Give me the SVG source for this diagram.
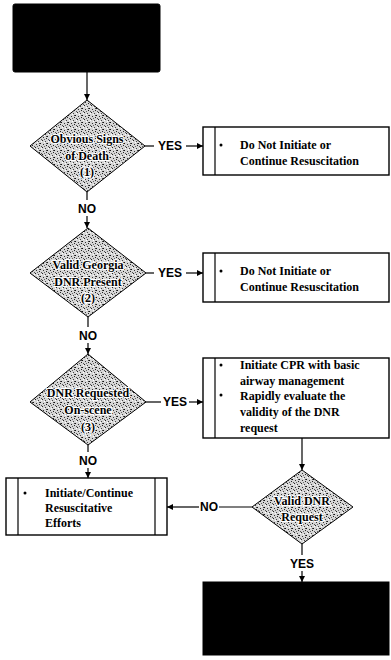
<svg xmlns="http://www.w3.org/2000/svg" width="391" height="660" viewBox="0 0 391 660">
<defs>
<pattern id="stip" width="7" height="7" patternUnits="userSpaceOnUse">
<rect width="7" height="7" fill="#d6d6d6"/>
<rect x="0" y="0" width="1" height="1" fill="#222"/>
<rect x="3" y="1" width="1" height="1" fill="#444"/>
<rect x="5" y="3" width="1" height="1" fill="#111"/>
<rect x="1" y="4" width="1" height="1" fill="#333"/>
<rect x="4" y="5" width="1" height="1" fill="#222"/>
<rect x="6" y="6" width="1" height="1" fill="#555"/>
<rect x="2" y="6" width="1" height="1" fill="#666"/>
<rect x="6" y="1" width="1" height="1" fill="#fff"/>
<rect x="2" y="2" width="1" height="1" fill="#fff"/>
<rect x="4" y="3" width="1" height="1" fill="#444"/>
</pattern>
<marker id="ah" viewBox="0 0 10 10" refX="10" refY="5" markerWidth="6" markerHeight="6" orient="auto" markerUnits="userSpaceOnUse">
<path d="M0,0 L10,5 L0,10 z" fill="#000"/>
</marker>
</defs>
<style>
.blk{fill:#000;stroke:#000}
.dia{fill:url(#stip);stroke:#000;stroke-width:1}
.box{fill:#fff;stroke:#000;stroke-width:1.4}
.in{stroke:#000;stroke-width:1.2}
.dt{font-family:"Liberation Serif",serif;font-weight:bold;font-size:12px;fill:#000;stroke:#fff;stroke-width:2;paint-order:stroke;text-anchor:middle}
.bt{font-family:"Liberation Serif",serif;font-weight:bold;font-size:12px;fill:#000}
.lb{font-family:"Liberation Sans",Arial,sans-serif;font-weight:bold;font-size:12px;fill:#000;text-anchor:middle}
.ln{fill:none;stroke:#000;stroke-width:1.2}
</style>
<rect width="391" height="660" fill="#fff"/>

<g id="start"><rect class="blk" x="13" y="4" width="147" height="68" rx="2"/></g>

<g id="d1">
<polygon class="dia" points="87,100 145,146 87,192 30,146"/>
<text class="dt" x="87" y="143">Obvious Signs</text>
<text class="dt" x="87" y="160">of Death</text>
<text class="dt" x="87" y="176">(1)</text>
</g>
<g id="b1">
<rect class="box" x="203" y="127" width="186" height="48"/>
<line class="in" x1="215" y1="127" x2="215" y2="175"/>
<circle cx="221" cy="145" r="1.5"/>
<text class="bt" x="240" y="149">Do Not Initiate or</text>
<text class="bt" x="240" y="165">Continue Resuscitation</text>
</g>

<g id="d2">
<polygon class="dia" points="88,228 146,273 88,317 30,273"/>
<text class="dt" x="88" y="269">Valid Georgia</text>
<text class="dt" x="88" y="286">DNR Present</text>
<text class="dt" x="88" y="302">(2)</text>
</g>
<g id="b2">
<rect class="box" x="203" y="253" width="186" height="49"/>
<line class="in" x1="215" y1="253" x2="215" y2="302"/>
<circle cx="221" cy="271" r="1.5"/>
<text class="bt" x="240" y="275">Do Not Initiate or</text>
<text class="bt" x="240" y="291">Continue Resuscitation</text>
</g>

<g id="d3">
<polygon class="dia" points="88,354 146,402 88,445 30,402"/>
<text class="dt" x="88" y="397">DNR Requested</text>
<text class="dt" x="88" y="414">On-scene</text>
<text class="dt" x="88" y="431">(3)</text>
</g>
<g id="b3">
<rect class="box" x="203" y="358" width="186" height="80"/>
<line class="in" x1="215" y1="358" x2="215" y2="438"/>
<circle cx="221" cy="365" r="1.5"/>
<circle cx="221" cy="395" r="1.5"/>
<text class="bt" x="240" y="369">Initiate CPR with basic</text>
<text class="bt" x="240" y="385">airway management</text>
<text class="bt" x="240" y="400">Rapidly evaluate the</text>
<text class="bt" x="240" y="416">validity of the DNR</text>
<text class="bt" x="240" y="432">request</text>
</g>

<g id="b4">
<rect class="box" x="6" y="478" width="161" height="57"/>
<line class="in" x1="18" y1="478" x2="18" y2="535"/>
<line class="in" x1="155" y1="478" x2="155" y2="535"/>
<circle cx="25" cy="493" r="1.5"/>
<text class="bt" x="45" y="497">Initiate/Continue</text>
<text class="bt" x="45" y="512">Resuscitative</text>
<text class="bt" x="45" y="527">Efforts</text>
</g>

<g id="d4">
<polygon class="dia" points="302,470 353,507 302,544 252,507"/>
<text class="dt" x="302" y="505">Valid DNR</text>
<text class="dt" x="302" y="521">Request</text>
</g>

<g id="end"><rect class="blk" x="203" y="582" width="186" height="73"/></g>

<g id="connectors">
<line class="ln" x1="87" y1="72" x2="87" y2="100" marker-end="url(#ah)"/>
<line class="ln" x1="145" y1="146" x2="154" y2="146"/>
<text class="lb" x="170" y="150">YES</text>
<line class="ln" x1="186" y1="146" x2="203" y2="146" marker-end="url(#ah)"/>
<line class="ln" x1="87" y1="192" x2="87" y2="200"/>
<text class="lb" x="87" y="213">NO</text>
<line class="ln" x1="87" y1="216" x2="87" y2="228" marker-end="url(#ah)"/>

<line class="ln" x1="146" y1="273" x2="154" y2="273"/>
<text class="lb" x="170" y="277">YES</text>
<line class="ln" x1="186" y1="273" x2="203" y2="273" marker-end="url(#ah)"/>
<line class="ln" x1="88" y1="317" x2="88" y2="327"/>
<text class="lb" x="88" y="340">NO</text>
<line class="ln" x1="88" y1="343" x2="88" y2="354" marker-end="url(#ah)"/>

<line class="ln" x1="146" y1="402" x2="161" y2="402"/>
<text class="lb" x="175" y="406">YES</text>
<line class="ln" x1="189" y1="402" x2="203" y2="402" marker-end="url(#ah)"/>
<line class="ln" x1="88" y1="445" x2="88" y2="452"/>
<text class="lb" x="88" y="465">NO</text>
<line class="ln" x1="88" y1="468" x2="88" y2="478" marker-end="url(#ah)"/>

<line class="ln" x1="302" y1="438" x2="302" y2="470" marker-end="url(#ah)"/>
<line class="ln" x1="252" y1="507" x2="219" y2="507"/>
<text class="lb" x="209" y="511">NO</text>
<line class="ln" x1="199" y1="507" x2="167" y2="507" marker-end="url(#ah)"/>
<line class="ln" x1="302" y1="544" x2="302" y2="555"/>
<text class="lb" x="302" y="568">YES</text>
<line class="ln" x1="302" y1="571" x2="302" y2="582" marker-end="url(#ah)"/>
</g>
</svg>
